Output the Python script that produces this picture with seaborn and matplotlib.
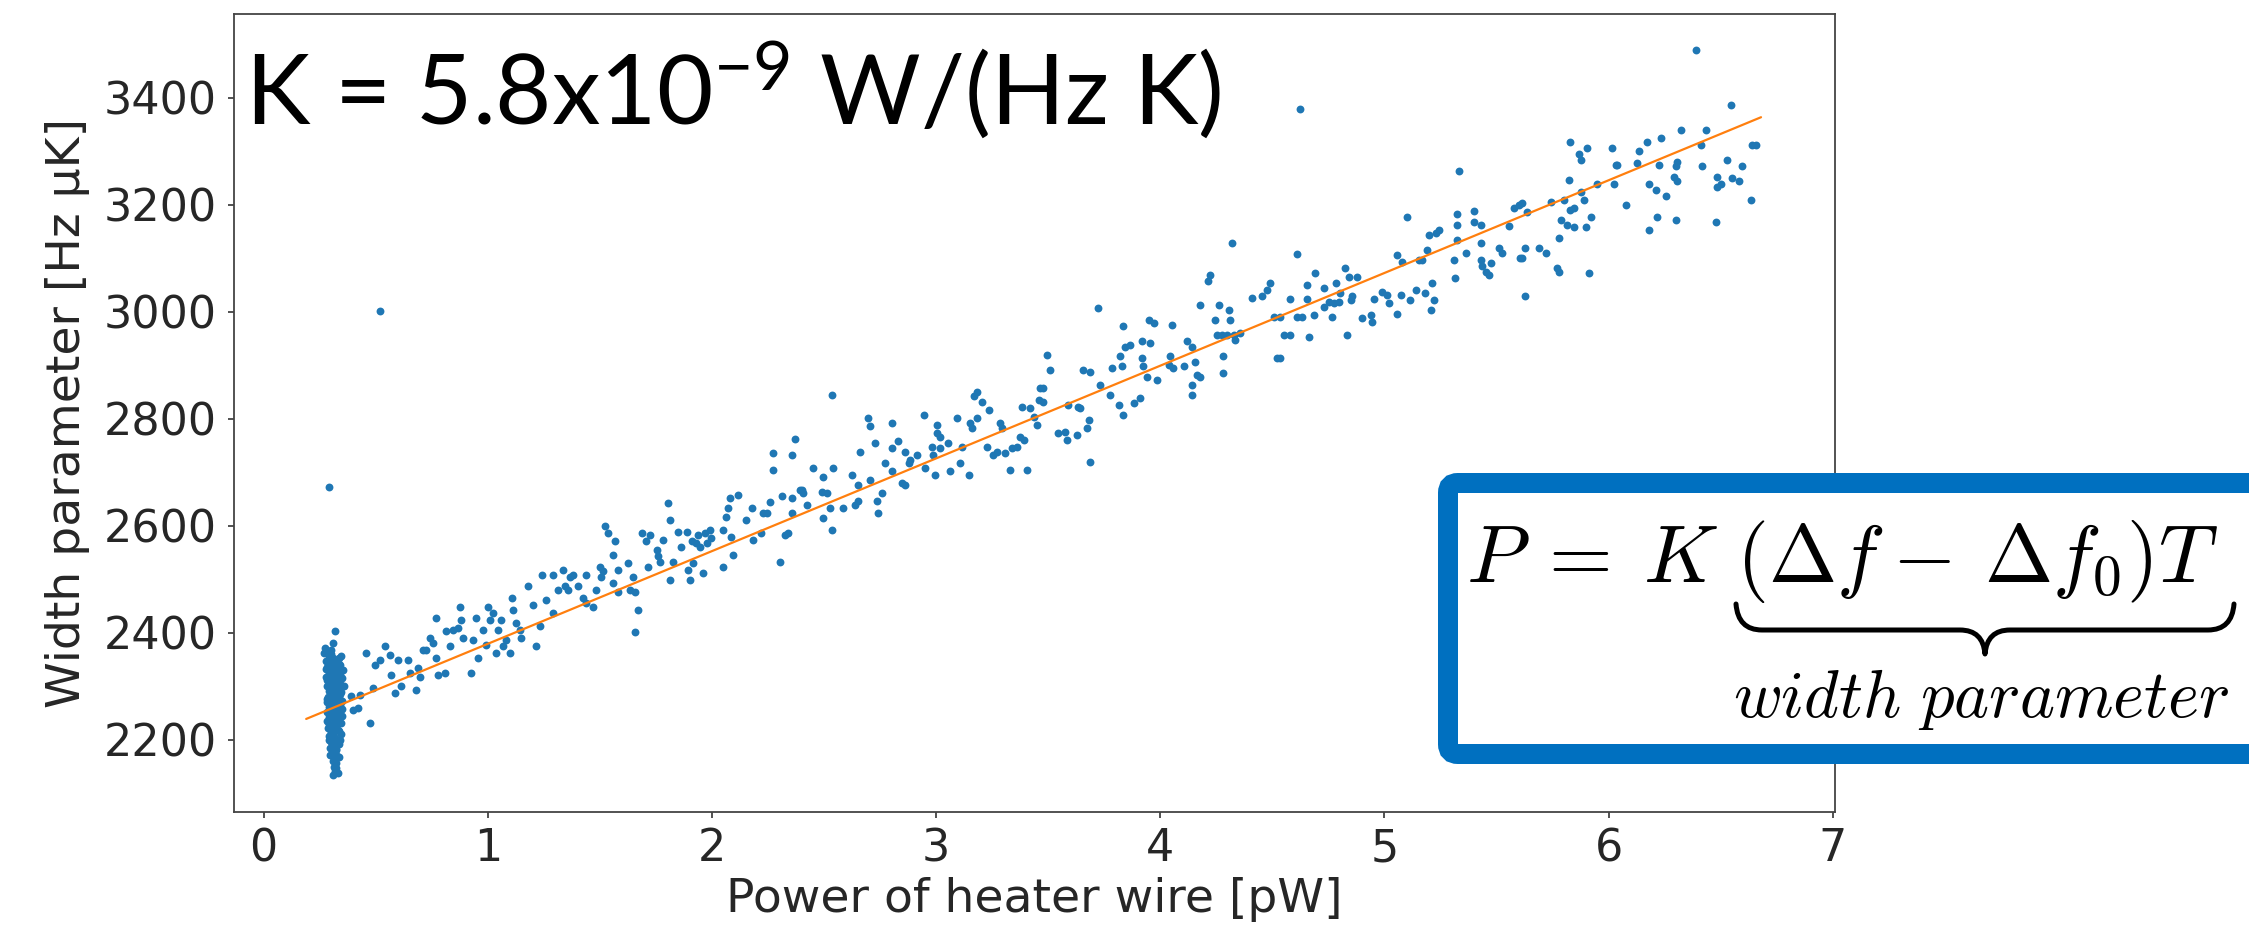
import numpy as np
import pandas as pd
import seaborn as sns
import matplotlib
matplotlib.use("Agg")
import matplotlib.pyplot as plt
from matplotlib.patches import FancyBboxPatch, PathPatch
from matplotlib.path import Path

# ---------------- data ----------------
# baseline cluster of repeated measurements near 0.3 pW
cluster_x = [0.317, 0.310, 0.275, 0.285, 0.347, 0.300, 0.320, 0.290, 0.335, 0.305,
             0.280, 0.325, 0.295, 0.340, 0.310, 0.285, 0.330, 0.300, 0.345, 0.315,
             0.290, 0.325, 0.360, 0.305, 0.335, 0.285, 0.320, 0.295, 0.340, 0.310,
             0.350, 0.290, 0.325, 0.300, 0.335, 0.315, 0.285, 0.345, 0.305, 0.325,
             0.295, 0.335, 0.310, 0.290, 0.320, 0.340, 0.300, 0.330, 0.310, 0.295,
             0.325, 0.315, 0.305, 0.335, 0.320, 0.310, 0.325, 0.315, 0.320, 0.310,
             0.330, 0.300, 0.330, 0.300, 0.320, 0.310, 0.290, 0.340, 0.315, 0.300,
             0.270, 0.355, 0.345, 0.290, 0.290, 0.520,
             0.282, 0.288, 0.292, 0.298, 0.302, 0.306, 0.312, 0.318, 0.322, 0.328,
             0.332, 0.338, 0.342, 0.348, 0.344, 0.336, 0.328, 0.318, 0.308, 0.298,
             0.288, 0.280, 0.284, 0.294, 0.304, 0.314, 0.324, 0.334, 0.340, 0.296,
             0.306, 0.316, 0.326, 0.336, 0.286, 0.296, 0.316, 0.326, 0.300, 0.310,
             0.320, 0.330, 0.312, 0.322, 0.318, 0.308, 0.348, 0.352, 0.278, 0.282,
             0.290, 0.302, 0.322, 0.338, 0.284, 0.294, 0.304, 0.314, 0.324, 0.334]
cluster_y = [2403, 2381, 2372, 2366, 2356, 2360, 2350, 2345, 2342, 2338,
             2332, 2330, 2325, 2322, 2318, 2312, 2310, 2305, 2302, 2298,
             2292, 2290, 2300, 2285, 2280, 2276, 2272, 2268, 2265, 2260,
             2258, 2254, 2250, 2246, 2242, 2238, 2235, 2232, 2228, 2224,
             2220, 2216, 2212, 2208, 2204, 2200, 2196, 2192, 2188, 2184,
             2180, 2176, 2172, 2168, 2164, 2160, 2156, 2150, 2141, 2135,
             2138, 2290, 2262, 2215, 2226, 2245, 2325, 2285, 2330, 2340,
             2362, 2330, 2210, 2230, 2673, 3002,
             2300, 2280, 2262, 2244, 2226, 2208, 2190, 2172, 2182, 2200,
             2218, 2236, 2254, 2272, 2290, 2308, 2326, 2344, 2352, 2334,
             2316, 2348, 2252, 2200, 2180, 2206, 2240, 2270, 2340, 2296,
             2314, 2280, 2306, 2192, 2222, 2172, 2256, 2170, 2270, 2298,
             2318, 2236, 2166, 2148, 2158, 2222, 2244, 2316, 2318, 2270,
             2356, 2368, 2336, 2352, 2336, 2242, 2256, 2322, 2278, 2298]

ramp_x = [
    0.391, 0.429, 0.399, 0.421, 0.473, 0.458, 0.488, 0.496, 0.518, 0.540,
    0.563, 0.570, 0.585, 0.600, 0.615, 0.644, 0.652, 0.682, 0.689, 0.696,
    0.711, 0.726, 0.741, 0.756, 0.771, 0.771, 0.778, 0.808, 0.815, 0.830,
    0.845, 0.868, 0.875, 0.882, 0.890, 0.927, 0.935, 0.949, 0.957, 0.979,
    0.994, 1.002, 1.009, 1.024, 1.039, 1.046, 1.061, 1.068, 1.083, 1.098,
    1.106, 1.113, 1.128, 1.143, 1.150, 1.180, 1.202, 1.217, 1.232, 1.240,
    1.262, 1.292, 1.292, 1.314,
    1.336, 1.343, 1.366, 1.381, 1.358, 1.403, 1.425, 1.440, 1.440, 1.470,
    1.485, 1.500, 1.507, 1.514, 1.522, 1.537, 1.559, 1.567, 1.559, 1.581,
    1.581, 1.626, 1.634, 1.648, 1.656, 1.671, 1.656, 1.686, 1.708, 1.723,
    1.715, 1.753, 1.760, 1.767, 1.782, 1.812, 1.805, 1.812, 1.827, 1.849,
    1.864, 1.887, 1.894, 1.902, 1.909, 1.916, 1.931, 1.939, 1.946, 1.961,
    1.968, 1.976, 1.991, 1.998, 2.050, 2.050, 2.065, 2.073, 2.080, 2.087,
    2.095, 2.117, 2.154, 2.177, 2.184, 2.221, 2.229, 2.244, 2.259, 2.273,
    2.273, 2.303, 2.311, 2.326, 2.340, 2.355, 2.355, 2.358, 2.370, 2.392,
    2.400, 2.408, 2.423, 2.453, 2.490, 2.497, 2.512, 2.497, 2.527, 2.534,
    2.534, 2.542, 2.586, 2.624, 2.639, 2.653, 2.653, 2.661, 2.698, 2.706,
    2.706, 2.728, 2.735, 2.743, 2.758, 2.772, 2.802, 2.802, 2.802, 2.832,
    2.847, 2.862, 2.862, 2.877, 2.884, 2.914, 2.944, 2.951, 2.981, 2.988,
    2.996, 3.003, 3.003, 3.018, 3.018, 3.055, 3.063, 3.092, 3.107, 3.115,
    3.145, 3.152, 3.159, 3.167, 3.182, 3.182, 3.204, 3.226, 3.234, 3.256,
    3.271, 3.286, 3.293, 3.308, 3.330, 3.338, 3.360, 3.375, 3.383, 3.390,
    3.405, 3.420, 3.435, 3.450, 3.457, 3.464,
    3.479, 3.479, 3.494, 3.509, 3.546, 3.576, 3.583, 3.590, 3.628, 3.635,
    3.643, 3.657, 3.672, 3.680, 3.687, 3.687, 3.724, 3.732, 3.777, 3.784,
    3.814, 3.821, 3.829, 3.836, 3.836, 3.843, 3.866, 3.881, 3.910, 3.918,
    3.918, 3.925, 3.940, 3.948, 3.955, 3.970, 3.985, 4.037, 4.044, 4.052,
    4.059, 4.104, 4.119, 4.141, 4.141, 4.141, 4.156, 4.163, 4.178, 4.178,
    4.215, 4.223, 4.245, 4.253, 4.260, 4.275, 4.282, 4.282, 4.297, 4.305,
    4.312, 4.320, 4.327, 4.335, 4.357, 4.409, 4.454, 4.476, 4.491, 4.506,
    4.521,
    4.625, 4.536, 4.536, 4.551, 4.581, 4.581, 4.610, 4.610, 4.633, 4.655,
    4.655, 4.662, 4.685, 4.692, 4.729, 4.729, 4.752, 4.767, 4.774, 4.782,
    4.796, 4.804, 4.826, 4.834, 4.841, 4.849, 4.856, 4.878, 4.901, 4.938,
    4.945, 4.953, 4.990, 5.012, 5.020, 5.057, 5.057, 5.072, 5.079, 5.101,
    5.116, 5.139, 5.154, 5.168, 5.183, 5.191, 5.198, 5.206, 5.213, 5.220,
    5.228, 5.243, 5.310, 5.317, 5.325, 5.325, 5.325, 5.332, 5.362, 5.399,
    5.399, 5.429, 5.429, 5.429, 5.436, 5.451, 5.466, 5.474, 5.511, 5.526,
    5.555, 5.578, 5.600, 5.607,
    5.614, 5.614, 5.629, 5.637, 5.629, 5.689, 5.719, 5.741, 5.771, 5.778,
    5.778, 5.786, 5.800, 5.815, 5.823, 5.830, 5.830, 5.845, 5.845, 5.867,
    5.875, 5.875, 5.890, 5.897, 5.905, 5.912, 5.920, 5.949, 6.016, 6.024,
    6.031, 6.039, 6.076, 6.128, 6.135, 6.173, 6.180, 6.180, 6.210, 6.217,
    6.232, 6.225, 6.254, 6.292, 6.299, 6.306, 6.306, 6.299, 6.321, 6.388,
    6.411, 6.418, 6.433, 6.478, 6.485, 6.485, 6.500, 6.530, 6.545, 6.552,
    6.582, 6.597, 6.634, 6.641, 6.656]
ramp_y = [
    2281, 2284, 2256, 2259, 2231, 2362, 2297, 2340, 2350, 2375,
    2359, 2322, 2287, 2350, 2300, 2350, 2325, 2294, 2334, 2318,
    2368, 2368, 2390, 2381, 2427, 2353, 2322, 2325, 2403, 2375,
    2406, 2409, 2449, 2424, 2390, 2325, 2387, 2427, 2353, 2406,
    2378, 2449, 2424, 2437, 2362, 2406, 2424, 2375, 2387, 2362,
    2465, 2443, 2418, 2406, 2390, 2487, 2452, 2375, 2412, 2508,
    2462, 2508, 2437, 2480,
    2518, 2487, 2505, 2508, 2480, 2487, 2465, 2508, 2455, 2449,
    2480, 2524, 2505, 2515, 2599, 2586, 2546, 2571, 2493, 2518,
    2477, 2530, 2480, 2505, 2477, 2443, 2402, 2586, 2571, 2583,
    2524, 2555, 2543, 2533, 2574, 2499, 2642, 2611, 2533, 2589,
    2561, 2589, 2518, 2499, 2571, 2530, 2568, 2583, 2561, 2511,
    2586, 2568, 2592, 2577, 2592, 2524, 2617, 2633, 2652, 2580,
    2546, 2658, 2611, 2633, 2574, 2586, 2624, 2624, 2645, 2737,
    2705, 2533, 2655, 2583, 2586, 2652, 2624, 2733, 2762, 2667,
    2667, 2661, 2639, 2708, 2664, 2692, 2661, 2614, 2633, 2845,
    2592, 2708, 2633, 2695, 2639, 2677, 2646, 2739, 2801, 2786,
    2686, 2754, 2646, 2624, 2661, 2717, 2792, 2702, 2745, 2758,
    2680, 2677, 2739, 2717, 2723, 2733, 2808, 2708, 2748, 2733,
    2695, 2773, 2789, 2767, 2745, 2755, 2702, 2801, 2717, 2748,
    2695, 2792, 2783, 2842, 2851, 2801, 2832, 2748, 2817, 2733,
    2739, 2792, 2783, 2736, 2705, 2745, 2748, 2767, 2823, 2761,
    2705, 2820, 2804, 2789, 2835, 2857,
    2857, 2832, 2920, 2892, 2773, 2776, 2761, 2826, 2770, 2823,
    2820, 2892, 2783, 2798, 2888, 2720, 3007, 2864, 2845, 2895,
    2826, 2917, 2898, 2973, 2807, 2935, 2938, 2829, 2839, 2945,
    2913, 2898, 2879, 2985, 2941, 2979, 2873, 2901, 2917, 2976,
    2895, 2898, 2945, 2935, 2864, 2845, 2907, 2882, 2879, 3013,
    3057, 3069, 2985, 2957, 3013, 2957, 2917, 2885, 2957, 3004,
    2985, 3128, 2957, 2948, 2960, 3026, 3029, 3041, 3054, 2991,
    2913,
    3379, 2991, 2913, 2957, 2957, 3024, 3108, 2991, 2991, 3050,
    3025, 2954, 2994, 3072, 3044, 3010, 3019, 2991, 3016, 3054,
    3019, 3035, 3082, 2957, 3066, 3022, 3029, 3066, 2988, 2994,
    2982, 3025, 3038, 3032, 3016, 2997, 3107, 3032, 3094, 3178,
    3022, 3041, 3097, 3097, 3035, 3116, 3144, 3004, 3054, 3022,
    3147, 3153, 3097, 3063, 3135, 3184, 3163, 3264, 3110, 3188,
    3169, 3163, 3128, 3097, 3085, 3075, 3069, 3091, 3119, 3110,
    3160, 3194, 3200, 3100,
    3203, 3100, 3029, 3187, 3119, 3119, 3110, 3206, 3082, 3075,
    3138, 3172, 3209, 3163, 3247, 3318, 3191, 3194, 3159, 3296,
    3284, 3225, 3209, 3159, 3306, 3072, 3178, 3240, 3306, 3240,
    3275, 3275, 3200, 3278, 3300, 3318, 3240, 3153, 3228, 3178,
    3326, 3275, 3216, 3253, 3272, 3244, 3281, 3172, 3341, 3490,
    3312, 3272, 3340, 3169, 3253, 3234, 3240, 3284, 3387, 3250,
    3244, 3272, 3209, 3312, 3312]

# linear fit drawn across the measured power range
fit_x = [0.19, 6.68]
fit_y = [2239, 3364]

x_ticks = [0, 1, 2, 3, 4, 5, 6, 7]
y_ticks = [2200, 2400, 2600, 2800, 3000, 3200, 3400]

x_label = "Power of heater wire [pW]"
y_label = "Width parameter [Hz \u03bcK]"
k_text = r"K = 5.8x10$^{-9}$ W/(Hz K)"
eq_text = r"$P\:{=}\:K\ (\Delta f\:{-}\:\,\Delta f_0)T$"
brace_text = r"$width\ parameter$"

# ---------------- styling ----------------
sns.set_theme(style="ticks")
plt.rcParams["font.family"] = ["DejaVu Sans"]
plt.rcParams["mathtext.rm"] = "Lato"
plt.rcParams["mathtext.it"] = "Lato:italic"
plt.rcParams["mathtext.bf"] = "Lato:bold"
plt.rcParams["mathtext.sf"] = "Lato"

W, H, DPI = 2249, 932, 100
fig = plt.figure(figsize=(W / DPI, H / DPI), dpi=DPI)
fig.patch.set_facecolor("white")

left, right, bottom, top = 234, 1835, 812, 14
ax = fig.add_axes([left / W, 1 - bottom / H, (right - left) / W, (bottom - top) / H])

df = pd.DataFrame({"x": cluster_x + ramp_x, "y": cluster_y + ramp_y})
sns.scatterplot(data=df, x="x", y="y", ax=ax, color="#1f77b4", s=32,
                linewidth=0, zorder=2)
sns.lineplot(x=fit_x, y=fit_y, ax=ax, color="#ff7f0e", linewidth=1.6, zorder=3)

ax.set_xlim(-0.132, 7.01)
ax.set_ylim(2065, 3557)
ax.set_xticks(x_ticks)
ax.set_yticks(y_ticks)
ax.tick_params(axis="both", labelsize=32, length=4, width=1.2, color="#333333")
ax.tick_params(axis="x", pad=7)
ax.tick_params(axis="y", pad=8.5)
for sp in ax.spines.values():
    sp.set_color("#444444")
    sp.set_linewidth(1.3)

ax.set_xlabel(x_label, fontsize=34)
ax.set_ylabel(y_label, fontsize=34)
ax.xaxis.set_label_coords(0.5, -0.082)
ax.yaxis.set_label_coords(-0.0898, 0.5)

# big K annotation
fig.text(245 / W, 1 - 124 / H, k_text, fontsize=70, family="Lato",
         math_fontfamily="custom", ha="left", va="baseline", color="black")

# equation box (extends beyond the right edge of the figure)
inch = fig.dpi_scale_trans
box = FancyBboxPatch((1448 / DPI, (H - 754) / DPI), 830 / DPI, 271 / DPI,
                     boxstyle="round,pad=0,rounding_size=0.1",
                     transform=inch, facecolor="white", edgecolor="#0070C0",
                     linewidth=14.4, zorder=10)
fig.add_artist(box)

fig.text(1466 / W, 1 - 582 / H, eq_text, fontsize=59, math_fontfamily="cm",
         ha="left", va="baseline", color="black", zorder=11)
fig.text(1733 / W, 1 - 717 / H, brace_text, fontsize=48, math_fontfamily="cm",
         ha="left", va="baseline", color="black", zorder=11)

def P(xp, yp):
    return (xp / DPI, (H - yp) / DPI)

verts = [P(1736, 604), P(1738, 630), P(1762, 630), P(1960, 630),
         P(1983, 630), P(1985, 654), P(1987, 630), P(2010, 630),
         P(2208, 630), P(2232, 630), P(2234, 604)]
codes = [Path.MOVETO, Path.CURVE3, Path.CURVE3, Path.LINETO,
         Path.CURVE3, Path.CURVE3, Path.CURVE3, Path.CURVE3,
         Path.LINETO, Path.CURVE3, Path.CURVE3]
brace = PathPatch(Path(verts, codes), transform=inch, facecolor="none",
                  edgecolor="black", linewidth=3.6, capstyle="round",
                  joinstyle="round", zorder=11)
fig.add_artist(brace)

fig.savefig("out.png", dpi=DPI)
